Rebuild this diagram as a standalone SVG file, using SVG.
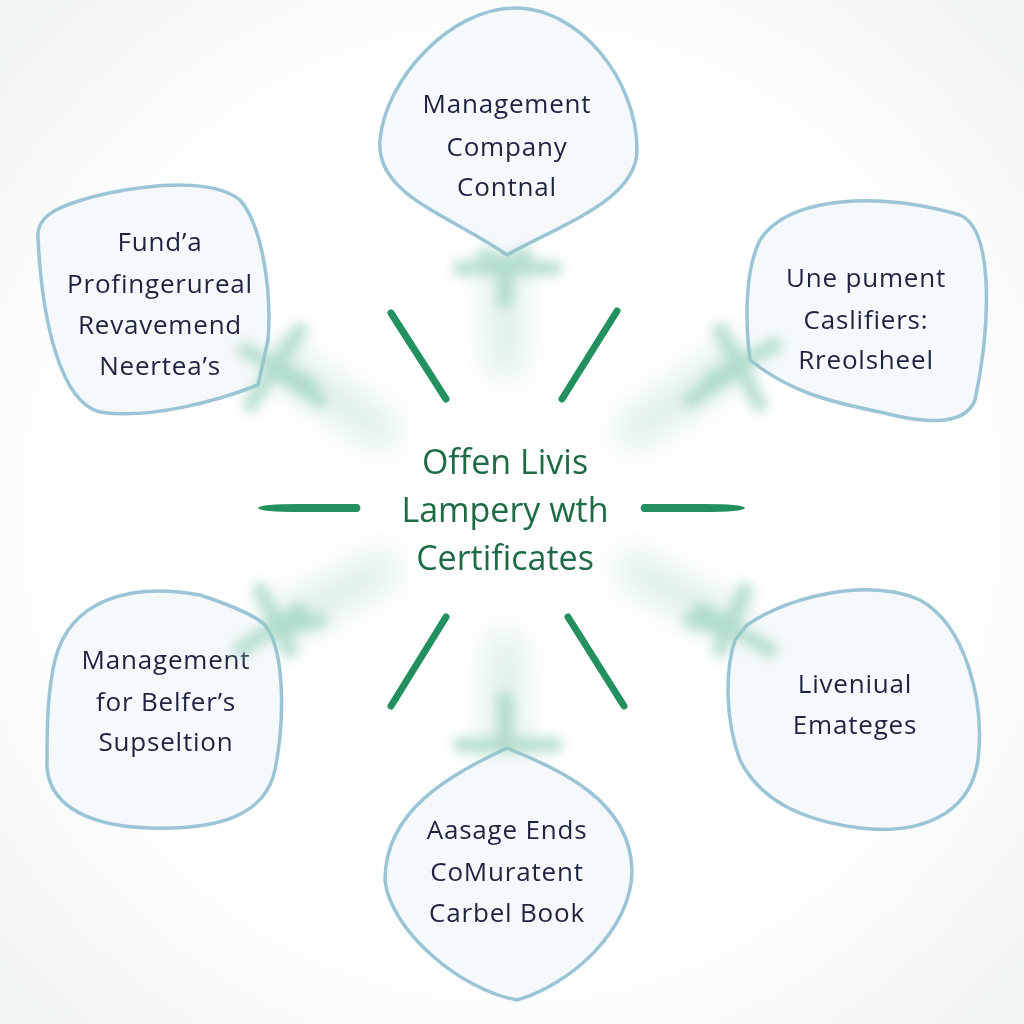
<svg xmlns="http://www.w3.org/2000/svg" width="1024" height="1024" viewBox="0 0 1024 1024">
<defs>
<filter id="blur" x="-50%" y="-50%" width="200%" height="200%"><feGaussianBlur stdDeviation="6"/></filter>
<filter id="blur2" x="-50%" y="-50%" width="200%" height="200%"><feGaussianBlur stdDeviation="16"/></filter>
<radialGradient id="bg" cx="50%" cy="50%" r="70%"><stop offset="0.6" stop-color="#ffffff"/><stop offset="1" stop-color="#f1f4f4"/></radialGradient>
</defs>
<style>
.bubble{fill:#f5f9fb;stroke:#9bc5d6;stroke-width:3.5;stroke-linejoin:round}
.lbl{font-family:"Open Sans","Noto Sans","Liberation Sans",sans-serif;font-size:26px;font-weight:500;letter-spacing:0.8px;fill:#1c2440;text-anchor:middle}
.center{font-family:"Open Sans","Noto Sans","Liberation Sans",sans-serif;font-size:34px;font-weight:500;fill:#1d6a44;text-anchor:middle}
.ray{stroke:#23905f;stroke-width:7;stroke-linecap:round;fill:none}
.splash{stroke:#8fcdb4;stroke-width:15;stroke-linecap:round;fill:none;opacity:0.6}
.glow{stroke:#d3ebe1;stroke-width:40;stroke-linecap:round;fill:none;opacity:0.75}
</style>
<rect width="1024" height="1024" fill="url(#bg)"/>
<g id="glows" filter="url(#blur2)">
<line class="glow" x1="505" y1="270" x2="505" y2="360"/>
<line class="glow" x1="280" y1="360" x2="380" y2="430"/>
<line class="glow" x1="735" y1="360" x2="635" y2="430"/>
<line class="glow" x1="280" y1="625" x2="380" y2="570"/>
<line class="glow" x1="735" y1="625" x2="635" y2="570"/>
<line class="glow" x1="505" y1="745" x2="505" y2="650"/>
</g>
<g id="node-top">
<path class="bubble" d="M507 255 C450 215 375 195 380 140 C385 80 450 8 515 8 C580 8 637 80 637 150 C637 200 560 225 507 255 Z"/>
<text class="lbl" x="507" y="113">Management</text>
<text class="lbl" x="507" y="156">Company</text>
<text class="lbl" x="507" y="196">Contnal</text>
</g>
<g id="node-top-left">
<path class="bubble" d="M38 238 C36 215 60 205 100 195 C160 182 215 180 240 200 C262 225 272 290 268 340 L258 385 C220 400 150 420 100 412 C60 402 42 320 38 238 Z"/>
<text class="lbl" x="160" y="251">Fund’a</text>
<text class="lbl" x="160" y="293">Profingerureal</text>
<text class="lbl" x="160" y="334">Revavemend</text>
<text class="lbl" x="160" y="375">Neertea’s</text>
</g>
<g id="node-top-right">
<path class="bubble" d="M760 240 C790 195 880 192 960 215 C995 230 990 330 975 400 C965 425 930 425 880 412 C830 402 790 392 750 360 C745 320 745 270 760 240 Z"/>
<text class="lbl" x="866" y="287">Une pument</text>
<text class="lbl" x="866" y="329">Caslifiers:</text>
<text class="lbl" x="866" y="369">Rreolsheel</text>
</g>
<g id="node-bottom-left">
<path class="bubble" d="M55 660 C70 600 130 582 200 595 C230 605 255 615 265 625 C285 650 285 720 275 770 C265 815 220 830 150 828 C80 826 45 800 47 760 C47 720 48 690 55 660 Z"/>
<text class="lbl" x="166" y="669">Management</text>
<text class="lbl" x="166" y="711">for Belfer’s</text>
<text class="lbl" x="166" y="751">Supseltion</text>
</g>
<g id="node-bottom-right">
<path class="bubble" d="M747 625 C790 595 870 578 920 600 C965 625 985 700 978 760 C970 815 920 835 860 828 C800 820 760 800 740 760 C725 720 725 670 735 640 Z"/>
<text class="lbl" x="855" y="693">Liveniual</text>
<text class="lbl" x="855" y="734">Emateges</text>
</g>
<g id="node-bottom">
<path class="bubble" d="M507 748 C560 770 630 800 632 870 C632 930 570 985 517 1000 C460 990 390 930 385 880 C385 810 450 775 507 748 Z"/>
<text class="lbl" x="507" y="839">Aasage Ends</text>
<text class="lbl" x="507" y="881">CoMuratent</text>
<text class="lbl" x="507" y="922">Carbel Book</text>
</g>
<g id="splashes" filter="url(#blur)">
<path class="splash" d="M460 268 L555 268 M505 262 L505 300 M485 255 L505 268 L525 255"/>
<path class="splash" d="M250 405 L300 330 M245 350 L310 385 M270 368 L320 400"/>
<path class="splash" d="M760 405 L720 330 M710 380 L775 345 M740 368 L690 400"/>
<path class="splash" d="M260 590 L290 650 M240 650 L300 610 M275 630 L320 620"/>
<path class="splash" d="M745 590 L720 650 M700 610 L770 650 M735 630 L690 620"/>
<path class="splash" d="M460 745 L555 745 M505 740 L505 700"/>
</g>
<g id="connectors">
<line class="ray" x1="391" y1="313" x2="446" y2="399"/>
<line class="ray" x1="617" y1="311" x2="562" y2="399"/>
<path d="M258 508 Q260 504 300 504 L358 504 Q363 508 358 512 L300 512 Q260 512 258 508 Z" fill="#23905f"/>
<path d="M745 508 Q743 504 703 504 L643 504 Q638 508 643 512 L703 512 Q743 512 745 508 Z" fill="#23905f"/>
<line class="ray" x1="446" y1="617" x2="391" y2="706"/>
<line class="ray" x1="568" y1="617" x2="624" y2="706"/>
</g>
<g id="center">
<text class="center" x="505" y="474">Offen Livis</text>
<text class="center" x="505" y="522">Lampery wth</text>
<text class="center" x="505" y="570">Certificates</text>
</g>
</svg>
